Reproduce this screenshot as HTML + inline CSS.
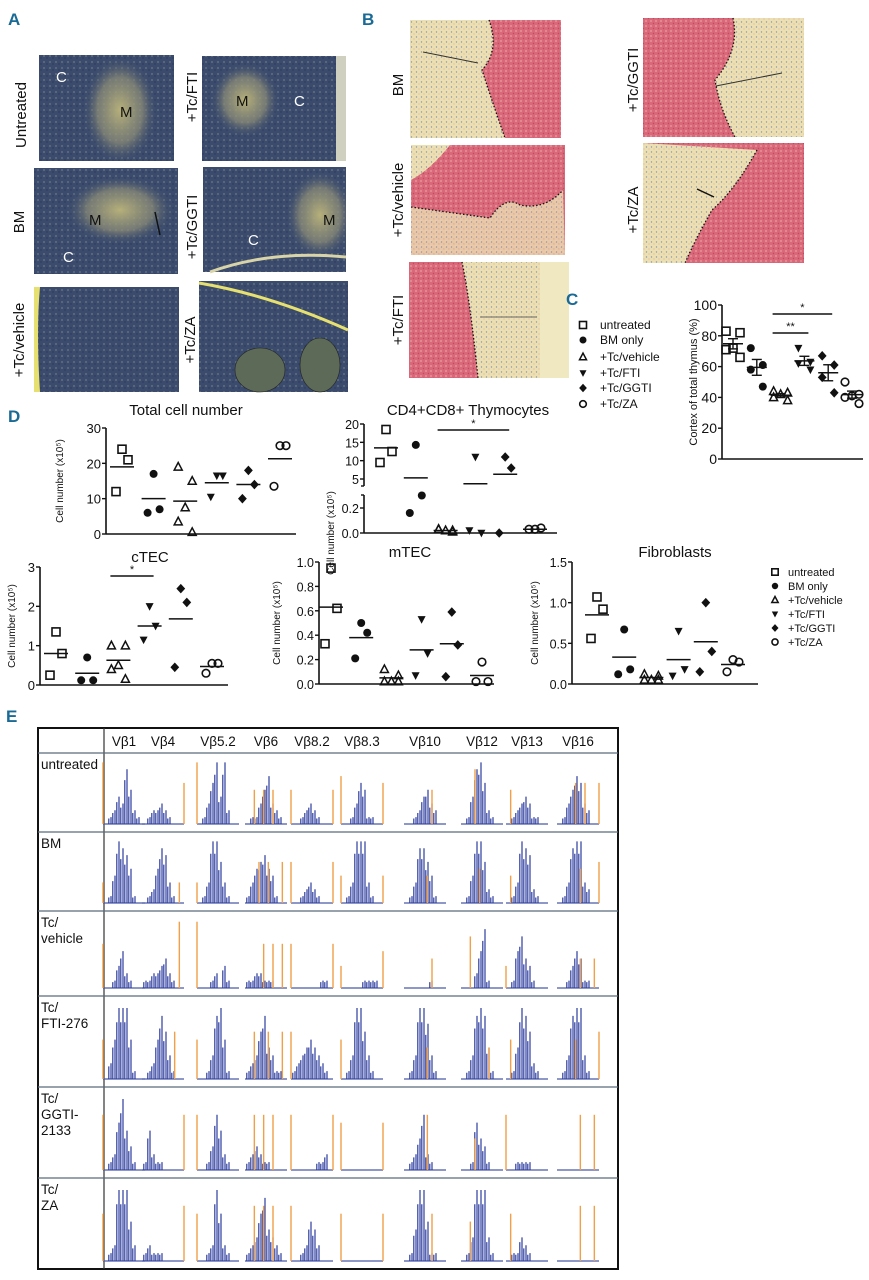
<!DOCTYPE html>
<html><head><meta charset="utf-8">
<style>
html,body{margin:0;padding:0;background:#fff;}
svg{display:block;font-family:"Liberation Sans Narrow","Liberation Sans",sans-serif;}
</style></head>
<body>
<svg id="fig" width="869" height="1280" viewBox="0 0 869 1280" xmlns="http://www.w3.org/2000/svg">
<defs>
 <radialGradient id="medA" cx="0.5" cy="0.5" r="0.5"><stop offset="0" stop-color="#b7b07a"/><stop offset="0.6" stop-color="#8f8f78" stop-opacity="0.7"/><stop offset="1" stop-color="#3a4a6c" stop-opacity="0"/></radialGradient>
 <pattern id="speck" width="6" height="6" patternUnits="userSpaceOnUse"><rect width="6" height="6" fill="#3b4b6e"/><circle cx="2" cy="2" r="0.9" fill="#6c7a7a"/><circle cx="5" cy="4" r="0.7" fill="#2a3656"/></pattern>
 <pattern id="pink" width="5" height="5" patternUnits="userSpaceOnUse"><rect width="5" height="5" fill="#d9687a"/><circle cx="1" cy="1" r="0.9" fill="#e9a0a0"/><circle cx="3.5" cy="3.5" r="0.7" fill="#c04a5e"/></pattern>
 <pattern id="cream" width="5" height="5" patternUnits="userSpaceOnUse"><rect width="5" height="5" fill="#ece0b2"/><circle cx="1.5" cy="2" r="0.7" fill="#8a96b4"/><circle cx="4" cy="4" r="0.5" fill="#d99a9a"/></pattern>
 <clipPath id="cA1"><rect x="39" y="55" width="135" height="106"/></clipPath>
 <clipPath id="cA2"><rect x="202" y="56" width="144" height="105"/></clipPath>
 <clipPath id="cA3"><rect x="34" y="168" width="144" height="106"/></clipPath>
 <clipPath id="cA4"><rect x="203" y="167" width="143" height="105"/></clipPath>
</defs>

<!-- Panel A micrographs -->
<g>
 <rect x="39" y="55" width="135" height="106" fill="url(#speck)"/>
 <ellipse cx="120" cy="110" rx="38" ry="55" fill="url(#medA)" clip-path="url(#cA1)"/>
 <text x="56" y="82" font-size="15" fill="#fff">C</text><text x="120" y="117" font-size="15" fill="#111">M</text>
 <rect x="202" y="56" width="144" height="105" fill="url(#speck)"/>
 <rect x="336" y="56" width="10" height="105" fill="#cfd0c0"/>
 <ellipse cx="245" cy="100" rx="35" ry="38" fill="url(#medA)" clip-path="url(#cA2)"/>
 <text x="236" y="106" font-size="15" fill="#111">M</text><text x="294" y="106" font-size="15" fill="#fff">C</text>
 <rect x="34" y="168" width="144" height="106" fill="url(#speck)"/>
 <ellipse cx="120" cy="210" rx="55" ry="35" fill="url(#medA)" clip-path="url(#cA3)"/>
 <line x1="155" y1="212" x2="160" y2="235" stroke="#111" stroke-width="1.5"/>
 <text x="89" y="225" font-size="15" fill="#111">M</text><text x="63" y="262" font-size="15" fill="#fff">C</text>
 <rect x="203" y="167" width="143" height="105" fill="url(#speck)"/>
 <ellipse cx="320" cy="215" rx="35" ry="45" fill="url(#medA)" clip-path="url(#cA4)"/>
 <path d="M210 272 Q270 250 346 257" stroke="#d8d4a8" stroke-width="3" fill="none"/>
 <text x="323" y="225" font-size="15" fill="#111">M</text><text x="248" y="245" font-size="15" fill="#fff">C</text>
 <rect x="34" y="287" width="145" height="105" fill="url(#speck)"/>
 <path d="M34 287 L40 287 Q36 330 40 392 L34 392Z" fill="#e6e070"/>
 <rect x="199" y="281" width="149" height="111" fill="url(#speck)"/>
 <path d="M199 283 Q270 295 348 330" stroke="#e6e070" stroke-width="3" fill="none"/>
 <ellipse cx="260" cy="370" rx="25" ry="22" fill="#5d6a58" stroke="#222" stroke-width="0.6"/>
 <ellipse cx="320" cy="365" rx="20" ry="27" fill="#5d6a58" stroke="#222" stroke-width="0.6"/>
</g>
<g font-size="15" fill="#111">
 <text transform="translate(26,115) rotate(-90)" text-anchor="middle">Untreated</text>
 <text transform="translate(197,97) rotate(-90)" text-anchor="middle">+Tc/FTI</text>
 <text transform="translate(24,222) rotate(-90)" text-anchor="middle">BM</text>
 <text transform="translate(197,227) rotate(-90)" text-anchor="middle">+Tc/GGTI</text>
 <text transform="translate(24,340) rotate(-90)" text-anchor="middle">+Tc/vehicle</text>
 <text transform="translate(195,340) rotate(-90)" text-anchor="middle">+Tc/ZA</text>
</g>

<!-- Panel B micrographs -->
<g>
 <rect x="410" y="20" width="151" height="118" fill="url(#cream)"/>
 <path d="M489 20 Q500 50 482 70 Q495 110 505 138 L561 138 L561 20Z" fill="url(#pink)"/>
 <path d="M489 20 Q500 50 482 70 Q495 110 505 138" stroke="#111" stroke-dasharray="1.5,2" fill="none" stroke-width="1.3"/>
 <line x1="423" y1="52" x2="478" y2="63" stroke="#333"/>
 <rect x="411" y="145" width="154" height="110" fill="url(#pink)"/>
 <path d="M411 145 L450 145 Q430 170 411 180Z" fill="url(#cream)"/>
 <path d="M411 207 L490 218 Q505 195 520 205 Q545 210 563 190 L565 255 L411 255Z" fill="url(#cream)" opacity="0.8"/>
 <path d="M411 207 L490 218 Q505 195 520 205 Q545 210 563 190" stroke="#111" stroke-dasharray="1.5,2" fill="none" stroke-width="1.3"/>
 <rect x="409" y="262" width="160" height="116" fill="url(#pink)"/>
 <path d="M462 262 Q470 300 478 378 L569 378 L569 262Z" fill="url(#cream)"/>
 <rect x="540" y="262" width="29" height="116" fill="#f0e8c0"/>
 <path d="M462 262 Q470 300 478 378" stroke="#111" stroke-dasharray="1.5,2" fill="none" stroke-width="1.3"/>
 <line x1="480" y1="317" x2="537" y2="317" stroke="#666"/>
 <rect x="643" y="18" width="161" height="119" fill="url(#pink)"/>
 <path d="M733 18 Q740 50 715 80 Q720 110 735 137 L804 137 L804 18Z" fill="url(#cream)"/>
 <path d="M733 18 Q740 50 715 80 Q720 110 735 137" stroke="#111" stroke-dasharray="1.5,2" fill="none" stroke-width="1.3"/>
 <line x1="716" y1="86" x2="782" y2="73" stroke="#333"/>
 <rect x="643" y="143" width="161" height="120" fill="url(#pink)"/>
 <path d="M643 143 L757 150 Q735 190 712 210 Q695 240 685 263 L643 263Z" fill="url(#cream)"/>
 <path d="M757 150 Q735 190 712 210 Q695 240 685 263" stroke="#111" stroke-dasharray="1.5,2" fill="none" stroke-width="1.3"/>
 <line x1="697" y1="189" x2="714" y2="197" stroke="#111" stroke-width="1.5"/>
</g>
<g font-size="15" fill="#111">
 <text transform="translate(403,85) rotate(-90)" text-anchor="middle">BM</text>
 <text transform="translate(403,200) rotate(-90)" text-anchor="middle">+Tc/vehicle</text>
 <text transform="translate(403,320) rotate(-90)" text-anchor="middle">+Tc/FTI</text>
 <text transform="translate(638,80) rotate(-90)" text-anchor="middle">+Tc/GGTI</text>
 <text transform="translate(638,210) rotate(-90)" text-anchor="middle">+Tc/ZA</text>
</g>

<g id="charts"></g>
<g id="table-e"></g>

<!-- Panel labels (drawn last) -->
<text x="8" y="25" font-size="17" font-weight="bold" fill="#1a6a96">A</text>
<text x="362" y="25" font-size="17" font-weight="bold" fill="#1a6a96">B</text>
<text x="566" y="305" font-size="17" font-weight="bold" fill="#1a6a96">C</text>
<text x="8" y="422" font-size="17" font-weight="bold" fill="#1a6a96">D</text>
<text x="6" y="722" font-size="17" font-weight="bold" fill="#1a6a96">E</text>
</svg>

<script>
// ===== Data =====
const groups = ["untreated","BM only","+Tc/vehicle","+Tc/FTI","+Tc/GGTI","+Tc/ZA"];
const markerTypes = ["sqOpen","circFill","triOpen","triDown","diamond","circOpen"];

const cortexValues = [[83,82,72,71,66],[72,61,58,47],[44,43,42,40,38],[72,63,62,58],[67,61,53,43],[50,42,41,40,36]];
const cortexTicks = [0,20,40,60,80,100];

const totalValues = [[24,21,12],[17,7,6],[19,15,7.5,3.5,0.5],[16.5,16.5,10.5],[18,14,10],[25,25,13.5]];
const totalMeans = [19,10,9.3,14.5,14,21.3];
const totalTicks = [0,10,20,30];

const dpValues = [[18.5,12.5,9.5],[14.3,0.3,0.16],[0.03,0.02,0.02,0.03,0.01],[11,0.0,0.02],[11,8,0.0],[0.03,0.04,0.03]];
const dpMeans = [13.5,5.3,0.02,3.7,6.3,0.03];
const dpTicksUpper = [5,10,15,20];
const dpTicksLower = [0.0,0.2];

const ctecValues = [[1.35,0.8,0.25],[0.7,0.12,0.12],[1.0,1.0,0.5,0.4,0.15],[2.0,1.5,1.15],[2.45,2.1,0.45],[0.55,0.55,0.3]];
const ctecMeans = [0.8,0.3,0.63,1.5,1.68,0.47];
const ctecTicks = [0,1,2,3];

const mtecValues = [[0.95,0.62,0.33],[0.5,0.42,0.21],[0.12,0.07,0.02,0.02,0.02],[0.53,0.25,0.07],[0.59,0.32,0.06],[0.18,0.02,0.02]];
const mtecMeans = [0.63,0.38,0.05,0.28,0.33,0.07];
const mtecTicks = [0.0,0.2,0.4,0.6,0.8,1.0];

const fibValues = [[1.07,0.92,0.56],[0.67,0.18,0.12],[0.12,0.1,0.05,0.05,0.05],[0.65,0.18,0.1],[1.0,0.4,0.15],[0.3,0.27,0.15]];
const fibMeans = [0.85,0.33,0.08,0.3,0.52,0.24];
const fibTicks = [0.0,0.5,1.0,1.5];

const vbLabels = ["Vβ1","Vβ4","Vβ5.2","Vβ6","Vβ8.2","Vβ8.3","Vβ10","Vβ12","Vβ13","Vβ16"];
const rowLabels = [["untreated"],["BM"],["Tc/","vehicle"],["Tc/","FTI-276"],["Tc/","GGTI-","2133"],["Tc/","ZA"]];
const bluePeaks = [
 ["0124385210","0122321000","0136949200","0113573210","0012321000","0013651100","0012453200","0148962100","0123431100","0135763200"],
 ["0149875100","0125873100","0139963100","1356754100","0012321000","0139993100","0138864100","0149962100","0139872100","0138993200"],
 ["0013521000","1122342100","0001203100","1122111000","0000000110","0000011110","0000001000","0002581000","0157431000","0013541100"],
 ["0259995100","0125863100","0013895100","1236843110","1234543210","0139963100","0139973100","0138984100","0149862100","0138993100"],
 ["0126953100","1521100000","0013752100","1232110000","0000001120","0000000000","0124721000","0016431000","0011110000","0000000000"],
 ["0129995200","1211100000","0012962100","1236843210","0012542000","0000000000","0149951100","0139993100","0113210000","0000000000"]];
const orangePeaks = [
 ["a9","j6","a9","c5e5g5","a5j5","a7j6","g5","d8","b5","e6g6j6"],
 ["a3","i3","a3","d6f6i6","a6j6","a4j4","f4","e5","b4","f5j6"],
 ["a6","i9","a9","e6g6i6","a6j6","a3j5","g4","c7","a3","f4i4"],
 ["a5","h6","a5","c6f6i6","a6","a5","f4","g4","b5","e5j6"],
 ["a7","j7","a7","c7e7g7","a7j7","a6j6","f7","d4","a7","f7i7"],
 ["a6","j7","a6","c7e7g7","a7","a6j6","g6","c5","b6","f7i7"]];

// ===== Helpers =====
const NS = "http://www.w3.org/2000/svg";
const charts = document.getElementById("charts");
function el(tag, attrs, parent){
  const e = document.createElementNS(NS, tag);
  for (const k in attrs) e.setAttribute(k, attrs[k]);
  (parent||charts).appendChild(e);
  return e;
}
function lin(d0,d1,r0,r1){ return v => r0 + (v-d0)*(r1-r0)/(d1-d0); }
function txt(parent, x, y, s, size, anchor, extra){
  const t = el("text", Object.assign({x:x, y:y, "font-size":size, "text-anchor":anchor||"start", fill:"#111"}, extra||{}), parent);
  t.textContent = s; return t;
}
function marker(parent, type, x, y, s){
  let m;
  if (type==="sqOpen") m = el("rect",{x:x-s,y:y-s,width:2*s,height:2*s,fill:"none",stroke:"#111","stroke-width":1.6},parent);
  else if (type==="circFill") m = el("circle",{cx:x,cy:y,r:s,fill:"#111"},parent);
  else if (type==="circOpen") m = el("circle",{cx:x,cy:y,r:s*0.95,fill:"none",stroke:"#111","stroke-width":1.6},parent);
  else if (type==="triOpen") m = el("polygon",{points:`${x},${y-s*1.1} ${x-s},${y+s*0.8} ${x+s},${y+s*0.8}`,fill:"none",stroke:"#111","stroke-width":1.5},parent);
  else if (type==="triDown") m = el("polygon",{points:`${x-s},${y-s*0.8} ${x+s},${y-s*0.8} ${x},${y+s*1.1}`,fill:"#111"},parent);
  else m = el("polygon",{points:`${x},${y-s*1.2} ${x+s*1.1},${y} ${x},${y+s*1.2} ${x-s*1.1},${y}`,fill:"#111"},parent);
  
  
  return m;
}
function jit(n,i){ const pat = n===3?[0,6,-6]:n===4?[-6,6,-6,6]:[-7,7,0,-7,7]; return pat[i%pat.length]; }

function dotChart(cfg){
  const g = el("g",{});
  
  
  const xs = i => cfg.x0 + cfg.pad + i*(cfg.x1 - cfg.x0 - 2*cfg.pad)/(groups.length-1);
  const y = cfg.y;
  const ya = el("line",{x1:cfg.x0,y1:cfg.yTop,x2:cfg.x0,y2:cfg.yBot,stroke:"#111","stroke-width":1.6},g);
   
  const xa = el("line",{x1:cfg.x0,y1:cfg.yBot,x2:cfg.x1,y2:cfg.yBot,stroke:"#111","stroke-width":1.6},g);
   
  cfg.ticks.forEach(t=>{
    el("line",{x1:cfg.x0-4,y1:y(t),x2:cfg.x0,y2:y(t),stroke:"#111","stroke-width":1.4},g);
    const tl = txt(g, cfg.x0-5, y(t)+5, cfg.fmt(t), cfg.tickSize, "end");
     
  });
  const yl = txt(g, 0, 0, cfg.ylabel, cfg.ylSize, "middle", {transform:`translate(${cfg.ylx},${(cfg.yTop+cfg.yBot)/2}) rotate(-90)`});
   
  if (cfg.title){ const tt = txt(g, cfg.titleX, cfg.titleY, cfg.title, 15, "middle");   }
  cfg.values.forEach((vals,gi)=>{
    vals.forEach((v,i)=>{ marker(g, markerTypes[gi], xs(gi)+jit(vals.length,i), y(v), cfg.ms); });
    let mean = cfg.means ? cfg.means[gi] : vals.reduce((a,b)=>a+b,0)/vals.length;
    const ml = el("line",{x1:xs(gi)-cfg.mw,y1:y(mean),x2:xs(gi)+cfg.mw,y2:y(mean),stroke:"#111","stroke-width":1.5},g);
     
    if (cfg.sem){
      const n=vals.length, sd=Math.sqrt(vals.reduce((a,b)=>a+(b-mean)**2,0)/(n-1)), se=sd/Math.sqrt(n);
      el("line",{x1:xs(gi),y1:y(mean+se),x2:xs(gi),y2:y(mean-se),stroke:"#111","stroke-width":1.4},g);
      el("line",{x1:xs(gi)-5,y1:y(mean+se),x2:xs(gi)+5,y2:y(mean+se),stroke:"#111","stroke-width":1.4},g);
      el("line",{x1:xs(gi)-5,y1:y(mean-se),x2:xs(gi)+5,y2:y(mean-se),stroke:"#111","stroke-width":1.4},g);
    }
  });
  (cfg.sig||[]).forEach(s=>{
    const sl = el("line",{x1:xs(s.a)-8,y1:s.y,x2:xs(s.b)+4,y2:s.y,stroke:"#111","stroke-width":1.6},g);
     
    txt(g,(xs(s.a)+xs(s.b))/2-2,s.y-3,s.label,11,"middle");
  });
  return g;
}

// ===== Panel C =====
dotChart({name:"cortex-chart", x0:722, x1:863, pad:11, yTop:305, yBot:459, y:lin(0,100,459,305),
  ticks:cortexTicks, fmt:t=>String(t), tickSize:14, ylabel:"Cortex of total thymus (%)", ylSize:11, ylx:697,
  values:cortexValues, ms:4, mw:10, sem:true, sig:[{a:2,b:4,y:314,label:"*"},{a:2,b:3,y:333,label:"**"}]});
(function(){
  const g = el("g",{});  
  const ys=[329,344,361,377,392,408];
  groups.forEach((n,i)=>{ marker(g, markerTypes[i], 583, ys[i]-4, 3.5); const t = txt(g,600,ys[i],n,12,"start");   });
})();

// ===== Panel D =====
dotChart({name:"total-cell-chart", x0:106, x1:296, pad:16, yTop:428, yBot:534, y:lin(0,30,534,428),
  ticks:totalTicks, fmt:t=>String(t), tickSize:13, ylabel:"Cell number (x10⁵)", ylSize:10, ylx:63,
  values:totalValues, means:totalMeans, ms:4, mw:12, title:"Total cell number", titleX:186, titleY:415});

(function(){
  const yU = lin(5,20,479,424), yL = lin(0,0.2,533,508);
  const y = v => v>=3 ? yU(v) : yL(v);
  const g = dotChart({name:"cd4cd8-chart", x0:364, x1:557, pad:22, yTop:533, yBot:533, y:y,
    ticks:[], fmt:t=>"", tickSize:12, ylabel:"Cell number (x10⁵)", ylSize:10, ylx:334,
    values:dpValues, means:dpMeans, ms:4, mw:12, title:"CD4+CD8+ Thymocytes", titleX:468, titleY:415,
    sig:[{a:2,b:4,y:430,label:"*"}]});
  el("line",{x1:364,y1:424,x2:364,y2:486,stroke:"#111","stroke-width":1.6},g);
  el("line",{x1:361,y1:486,x2:364,y2:486,stroke:"#111","stroke-width":1.4},g);
  el("line",{x1:364,y1:495,x2:364,y2:533,stroke:"#111","stroke-width":1.6},g);
  el("line",{x1:361,y1:495,x2:364,y2:495,stroke:"#111","stroke-width":1.4},g);
  dpTicksUpper.forEach(t=>{ el("line",{x1:360,y1:yU(t),x2:364,y2:yU(t),stroke:"#111","stroke-width":1.4},g); txt(g,359,yU(t)+5,String(t),12.5,"end"); });
  dpTicksLower.forEach(t=>{ el("line",{x1:360,y1:yL(t),x2:364,y2:yL(t),stroke:"#111","stroke-width":1.4},g); txt(g,359,yL(t)+5,t.toFixed(1),12.5,"end"); });
})();

dotChart({name:"ctec-chart", x0:40, x1:228, pad:16, yTop:567, yBot:685, y:lin(0,3,685,567),
  ticks:ctecTicks, fmt:t=>String(t), tickSize:13, ylabel:"Cell number (x10⁵)", ylSize:10, ylx:15,
  values:ctecValues, means:ctecMeans, ms:4, mw:12, title:"cTEC", titleX:150, titleY:562,
  sig:[{a:2,b:3,y:576,label:"*"}]});
dotChart({name:"mtec-chart", x0:319, x1:494, pad:12, yTop:562, yBot:684, y:lin(0,1,684,562),
  ticks:mtecTicks, fmt:t=>t.toFixed(1), tickSize:12.5, ylabel:"Cell number (x10⁵)", ylSize:10, ylx:280,
  values:mtecValues, means:mtecMeans, ms:4, mw:12, title:"mTEC", titleX:410, titleY:557});
dotChart({name:"fibroblast-chart", x0:572, x1:758, pad:25, yTop:562, yBot:684, y:lin(0,1.5,684,562),
  ticks:fibTicks, fmt:t=>t.toFixed(1), tickSize:12.5, ylabel:"Cell number (x10⁵)", ylSize:10, ylx:538,
  values:fibValues, means:fibMeans, ms:4, mw:12, title:"Fibroblasts", titleX:675, titleY:557});
(function(){
  const g = el("g",{});  
  groups.forEach((n,i)=>{ const yy=576+i*14; marker(g, markerTypes[i], 775, yy-4, 3.2); const t = txt(g,788,yy,n,11,"start");   });
})();

// ===== Panel E table =====
(function(){
  const T = document.getElementById("table-e");
  const rowY = [753,832,911,996,1087,1178,1269];
  const colX = [124,163,218,266,312,362,425,482,527,578];
  el("rect",{x:38,y:728,width:580,height:541,fill:"none",stroke:"#111","stroke-width":2},T);
  el("line",{x1:104,y1:728,x2:104,y2:1269,stroke:"#333","stroke-width":1.2},T);
  rowY.slice(0,6).forEach(yy=>{ el("line",{x1:38,y1:yy,x2:618,y2:yy,stroke:"#5a6a7a","stroke-width":1.2},T); });
  vbLabels.forEach((v,i)=>{ const t = txt(T,colX[i],746,v,13.5,"middle");   });
  rowLabels.forEach((lines,r)=>{
    lines.forEach((s,k)=>{ const t = txt(T,41,rowY[r]+16+k*16,s,13.5,"start");   });
    const base = rowY[r+1]-8, hmax = (rowY[r+1]-rowY[r])*0.78;
    colX.forEach((cx,c)=>{
      const w = 42, left = cx - w/2;
      const str = bluePeaks[r][c];
      const gg = el("g",{},T);
       
      el("line",{x1:left,y1:base,x2:left+w,y2:base,stroke:"#4a5aa8","stroke-width":1.3},gg);
      let d = "";
      for (let i=0;i<str.length;i++){
        const h = (+str[i])/9*hmax;
        const px = left + 3 + i*(w-6)/(str.length-1);
        if (h>0){ d += `M${px-1.2},${base}L${px-1.2},${base-h*0.8}M${px+1},${base}L${px+1},${base-h}`; }
      }
      if (d) el("path",{d:d,stroke:"#2d3d9e","stroke-width":1.2,fill:"none"},gg);
      const o = orangePeaks[r][c];
      for (let i=0;i<o.length;i+=2){
        const pos = o.charCodeAt(i)-97, h = (+o[i+1])/9*hmax;
        const px = left + pos*w/9;
        el("line",{x1:px,y1:base,x2:px,y2:base-h,stroke:"#f0a048","stroke-width":1.4},gg);
      }
    });
  });
})();
</script>
</body></html>
